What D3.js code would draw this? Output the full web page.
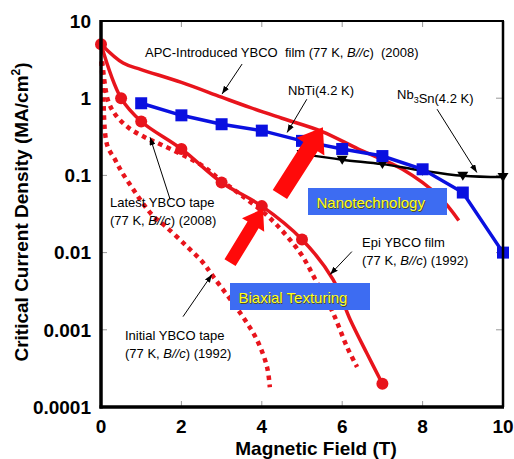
<!DOCTYPE html>
<html>
<head>
<meta charset="utf-8">
<script src="https://cdn.jsdelivr.net/npm/d3@7"></script>
<style>
  body { margin: 0; background: #fff; }
  text { font-family: "Liberation Sans", Arial, sans-serif; }
</style>
</head>
<body>
<svg id="chart" width="514" height="459"></svg>
<script>
// axis ticks
const fieldTicks = [0, 2, 4, 6, 8, 10];
const densityTicks = [10, 1, 0.1, 0.01, 0.001, 0.0001];

// series, [field (T), Jc (MA/cm2)]
const apcFilm = [[0, 5], [0.55, 2.85], [1, 2.35], [2, 1.6], [3, 1.03], [3.7, 0.76],
  [4.5, 0.55], [5.5, 0.37], [6.4, 0.22], [7.5, 0.12], [8.4, 0.054], [8.9, 0.026]];
const nbti = [[1, 0.86], [2, 0.6], [3, 0.46], [4, 0.38], [5, 0.28], [6, 0.22],
  [7, 0.178], [8, 0.12], [9, 0.06], [10, 0.01]];
const nb3sn = [[5, 0.19], [6, 0.16], [7, 0.14], [8, 0.115], [9, 0.099], [10, 0.095]];
const tapeSolid = [[0, 5], [0.5, 1.0], [1, 0.5], [2, 0.22], [3, 0.081], [4, 0.04],
  [5, 0.0148], [5.77, 0.0045], [6.2, 0.00135], [6.61, 0.0005], [7, 0.0002]];
const tapeMarkers = [[0, 5], [0.5, 1.0], [1, 0.5], [2, 0.22], [3, 0.081], [4, 0.04],
  [5, 0.0148], [7, 0.0002]];
const epiDotted = [[0.03, 3], [0.17, 0.95], [0.35, 0.62], [0.67, 0.42], [1.1, 0.31],
  [1.5, 0.25], [2.46, 0.14], [3, 0.085], [3.5, 0.055], [4.2, 0.028], [4.95, 0.01],
  [5.37, 0.0041], [5.77, 0.00166], [6.12, 0.0006], [6.37, 0.00033]];
const initialTape = [[0.01, 3], [0.05, 1.4], [0.15, 0.25], [0.35, 0.16], [0.52, 0.11],
  [0.8, 0.066], [1.02, 0.045], [1.29, 0.03], [1.6, 0.022], [2.14, 0.012], [2.54, 0.0074],
  [2.79, 0.0049], [3.46, 0.00166], [3.88, 0.00074], [4.13, 0.00033], [4.2, 0.00018]];

// annotations: label lines and [from, to] arrows in data units
const labels = [
  { lines: ["APC-Introduced YBCO  film (77 K, |B//c|)  (2008)"], x: 145, y: 57,
    arrow: [[3.51, 2.77], [3.01, 1.13]] },
  { lines: ["NbTi(4.2 K)"], x: 288, y: 95, arrow: [[5.12, 0.97], [4.63, 0.36]] },
  { lines: ["Nb_3_Sn(4.2 K)"], x: 397, y: 99, arrow: [[8.36, 0.72], [9.35, 0.109]] },
  { lines: ["Latest YBCO tape", "(77 K, |B//c|) (2008)"], x: 110, y: 207,
    arrow: [[1.72, 0.0488], [1.22, 0.312]] },
  { lines: ["Epi YBCO film", "(77 K, |B//c|) (1992)"], x: 362, y: 247,
    arrow: [[6.24, 0.0103], [5.7, 0.0052]] },
  { lines: ["Initial YBCO tape", "(77 K, |B//c|) (1992)"], x: 125, y: 340,
    arrow: [[2.04, 0.00148], [2.76, 0.0052]] },
];
const bigArrows = [[[3.21, 0.0074], [4.03, 0.037]], [[4.45, 0.0566], [5.52, 0.42]]];
const boxes = [
  { text: "Nanotechnology", x: 308, y: 188, w: 139 },
  { text: "Biaxial Texturing", x: 230, y: 283, w: 140 },
];

const RED = "#e8141c";
const BLUE = "#0a10e0";
const LEFT = 101, RIGHT = 503, TOP = 21, BOTTOM = 407;

const svg = d3.select("#chart");
svg.append("rect").attr("width", 514).attr("height", 459).attr("fill", "#fff");

const x = d3.scaleLinear().domain([0, 10]).range([LEFT, RIGHT]);
const y = d3.scaleLog().domain([0.0001, 10]).range([BOTTOM, TOP]);

// inward ticks, all four sides
const tickColor = "#999";
const tk = svg.append("g").attr("stroke", tickColor).attr("stroke-width", 1);
fieldTicks.slice(1, -1).forEach((t) => {
  tk.append("line").attr("x1", x(t)).attr("x2", x(t)).attr("y1", BOTTOM).attr("y2", BOTTOM - 6);
  tk.append("line").attr("x1", x(t)).attr("x2", x(t)).attr("y1", TOP).attr("y2", TOP + 6);
});
densityTicks.slice(1, -1).forEach((t) => {
  tk.append("line").attr("x1", LEFT).attr("x2", LEFT + 6).attr("y1", y(t)).attr("y2", y(t));
  tk.append("line").attr("x1", RIGHT).attr("x2", RIGHT - 7).attr("y1", y(t)).attr("y2", y(t));
});

// tick labels
svg.append("g")
  .selectAll("text")
  .data(densityTicks)
  .join("text")
  .attr("x", 91)
  .attr("y", (d) => y(d))
  .attr("dy", "0.36em")
  .attr("text-anchor", "end")
  .attr("font-size", 19)
  .attr("font-weight", "bold")
  .text((d) => (d >= 1 ? d : d.toFixed(Math.round(-Math.log10(d)))));

svg.append("g")
  .selectAll("text")
  .data(fieldTicks)
  .join("text")
  .attr("x", (d) => x(d))
  .attr("y", 433)
  .attr("text-anchor", "middle")
  .attr("font-size", 19)
  .attr("font-weight", "bold")
  .text((d) => d);

// axis titles
svg.append("text")
  .attr("x", (LEFT + RIGHT) / 2 + 14)
  .attr("y", 455)
  .attr("text-anchor", "middle")
  .attr("font-size", 19)
  .attr("font-weight", "bold")
  .text("Magnetic Field (T)");

const yTitle = svg.append("text")
  .attr("transform", "translate(28,212) rotate(-90)")
  .attr("text-anchor", "middle")
  .attr("font-size", 19)
  .attr("font-weight", "bold");
yTitle.append("tspan").text("Critical Current Density (MA/cm");
yTitle.append("tspan").attr("font-size", 12).attr("dy", -8).text("2");
yTitle.append("tspan").attr("dy", 8).text(")");

// curves
const line = d3.line().x((d) => x(d[0])).y((d) => y(d[1]));
const smooth = d3.line().x((d) => x(d[0])).y((d) => y(d[1])).curve(d3.curveCatmullRom.alpha(0.5));

const plot = svg.append("g");

[initialTape, epiDotted].forEach((s) => {
  plot.append("path")
    .attr("d", smooth(s))
    .attr("fill", "none")
    .attr("stroke", RED)
    .attr("stroke-width", 4.5)
    .attr("stroke-dasharray", "4.5 4.5");
});

plot.append("path").attr("d", smooth(apcFilm))
  .attr("fill", "none").attr("stroke", RED).attr("stroke-width", 3.5);

plot.append("path").attr("d", smooth(tapeSolid))
  .attr("fill", "none").attr("stroke", RED).attr("stroke-width", 3.5);

plot.selectAll(".tape-dot")
  .data(tapeMarkers)
  .join("circle")
  .attr("cx", (d) => x(d[0]))
  .attr("cy", (d) => y(d[1]))
  .attr("r", 6)
  .attr("fill", RED);

plot.append("path").attr("d", smooth(nb3sn))
  .attr("fill", "none").attr("stroke", "#000").attr("stroke-width", 2.5);

plot.selectAll(".tri")
  .data(nb3sn)
  .join("path")
  .attr("transform", (d) => `translate(${x(d[0])},${y(d[1])})`)
  .attr("d", "M-5.5,-4 L5.5,-4 L0,5 Z")
  .attr("fill", "#000");

plot.append("path").attr("d", line(nbti))
  .attr("fill", "none").attr("stroke", BLUE).attr("stroke-width", 3.5);

plot.selectAll(".sq")
  .data(nbti)
  .join("rect")
  .attr("x", (d) => x(d[0]) - 6)
  .attr("y", (d) => y(d[1]) - 6)
  .attr("width", 12)
  .attr("height", 12)
  .attr("fill", BLUE);

// frame
const frame = svg.append("g").attr("stroke", "#000");
frame.append("line").attr("x1", LEFT).attr("x2", RIGHT + 1).attr("y1", TOP).attr("y2", TOP).attr("stroke-width", 2);
frame.append("line").attr("x1", RIGHT).attr("x2", RIGHT).attr("y1", TOP).attr("y2", BOTTOM).attr("stroke-width", 2.5);
frame.append("line").attr("x1", LEFT).attr("x2", LEFT).attr("y1", TOP - 1).attr("y2", BOTTOM + 1.5).attr("stroke-width", 3.5);
frame.append("line").attr("x1", LEFT - 1.5).attr("x2", RIGHT + 1).attr("y1", BOTTOM).attr("y2", BOTTOM).attr("stroke-width", 3.5);

// big red arrows
function blockArrow(p0, p1, shaft, head, headLen) {
  const [x0, y0] = p0, [x1, y1] = p1;
  const L = Math.hypot(x1 - x0, y1 - y0);
  const ux = (x1 - x0) / L, uy = (y1 - y0) / L;
  const px = -uy, py = ux;
  const bx = x1 - ux * headLen, by = y1 - uy * headLen;
  const pts = [
    [x0 + px * shaft / 2, y0 + py * shaft / 2],
    [bx + px * shaft / 2, by + py * shaft / 2],
    [bx + px * head / 2, by + py * head / 2],
    [x1, y1],
    [bx - px * head / 2, by - py * head / 2],
    [bx - px * shaft / 2, by - py * shaft / 2],
    [x0 - px * shaft / 2, y0 - py * shaft / 2],
  ];
  return "M" + pts.map((p) => p.join(",")).join("L") + "Z";
}
const arrowSizes = [[13, 26, 19], [17, 33, 23]];
bigArrows.forEach((a, i) => {
  const [s, h, hl] = arrowSizes[i];
  svg.append("path")
    .attr("d", blockArrow([x(a[0][0]), y(a[0][1])], [x(a[1][0]), y(a[1][1])], s, h, hl))
    .attr("fill", "#ff0a0a");
});

// blue boxes
boxes.forEach((b) => {
  svg.append("rect")
    .attr("x", b.x).attr("y", b.y).attr("width", b.w).attr("height", 27)
    .attr("fill", "#3d6cf2");
  svg.append("text")
    .attr("x", b.x + 9.5).attr("y", b.y + 20.5)
    .attr("font-size", 15).attr("fill", "#4a4a30")
    .text(b.text);
  svg.append("text")
    .attr("x", b.x + 8.5).attr("y", b.y + 19.5)
    .attr("font-size", 15).attr("fill", "#ffff1a")
    .text(b.text);
});

// thin annotation arrows and labels
svg.append("defs").append("marker")
  .attr("id", "head")
  .attr("markerUnits", "userSpaceOnUse")
  .attr("markerWidth", 8).attr("markerHeight", 6)
  .attr("refX", 8).attr("refY", 3)
  .attr("orient", "auto")
  .append("path").attr("d", "M0,0 L8,3 L0,6 Z").attr("fill", "#000");

labels.forEach((l) => {
  svg.append("line")
    .attr("x1", x(l.arrow[0][0])).attr("y1", y(l.arrow[0][1]))
    .attr("x2", x(l.arrow[1][0])).attr("y2", y(l.arrow[1][1]))
    .attr("stroke", "#000").attr("stroke-width", 1)
    .attr("marker-end", "url(#head)");
  l.lines.forEach((str, i) => {
    const t = svg.append("text")
      .attr("x", l.x).attr("y", l.y + i * 17.5)
      .attr("font-size", 13)
      .attr("xml:space", "preserve");
    // |..| marks italics, _.._ marks subscript
    str.split(/(\|[^|]*\||_[^_]*_)/).forEach((part) => {
      if (!part) return;
      if (part[0] === "|") {
        t.append("tspan").attr("font-style", "italic").text(part.slice(1, -1));
      } else if (part[0] === "_") {
        t.append("tspan").attr("font-size", 9).attr("dy", 4).text(part.slice(1, -1));
        t.append("tspan").attr("dy", -4).text("");
      } else {
        t.append("tspan").text(part);
      }
    });
  });
});
</script>
</body>
</html>
